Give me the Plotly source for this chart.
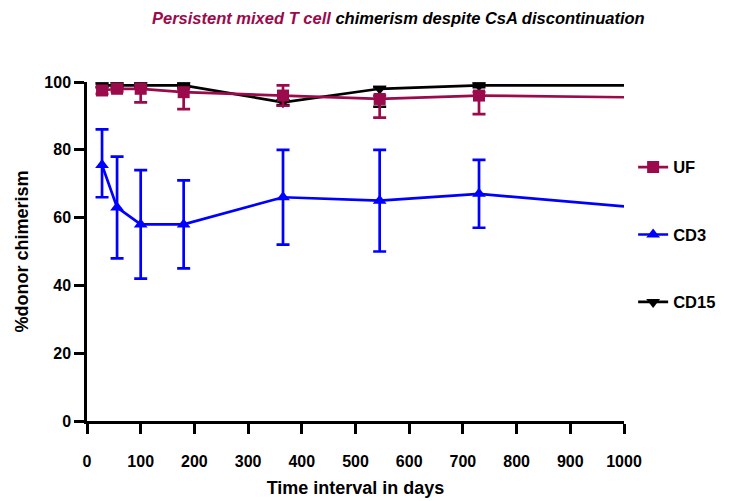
import plotly.graph_objects as go

days = [28, 56, 100, 180, 365, 545, 730]
x_end = [730, 1000]

uf = [97.5, 98, 98, 97, 96, 95, 96]
uf_up = [1, 0.8, 1, 1, 3, 1, 1]
uf_dn = [1, 0.8, 4, 5, 3, 5.5, 5.5]
uf_end = [96, 95.5]

cd3 = [75.5, 63, 58, 58, 66, 65, 67]
cd3_up = [10.5, 15, 16, 13, 14, 15, 10]
cd3_dn = [9.5, 15, 16, 13, 14, 15, 10]
cd3_end = [67, 63.3]

cd15 = [99, 99, 99, 99, 94, 98, 99]
cd15_up = [0.5, 0.5, 0.5, 0.5, 0.5, 0.5, 0.5]
cd15_dn = [0.5, 0.5, 0.5, 0.5, 0.8, 5.3, 0.5]
cd15_end = [99, 99]

x_ticks = list(range(0, 1001, 100))
y_ticks = list(range(0, 101, 20))

MAROON = "#9B0A4B"
BLUE = "#0000FF"
BLACK = "#000000"
FONT = "Liberation Sans, Arial"

fig = go.Figure()

def add_series(name, y, up, dn, yend, color, symbol, rank):
    fig.add_trace(go.Scatter(
        x=x_end, y=yend, mode="lines", line=dict(color=color, width=2.7),
        showlegend=False, hoverinfo="skip", cliponaxis=False))
    fig.add_trace(go.Scatter(
        x=days, y=y, mode="lines+markers", name=name, legendrank=rank,
        legendgroup=name,
        line=dict(color=color, width=2.7),
        marker=dict(color=color, symbol=symbol, size=12),
        error_y=dict(type="data", symmetric=False, array=up, arrayminus=dn,
                     color=color, thickness=2.7, width=6.5),
        cliponaxis=False))

add_series("CD15", cd15, cd15_up, cd15_dn, cd15_end, BLACK, "triangle-down", 3)
add_series("UF", uf, uf_up, uf_dn, uf_end, MAROON, "square", 1)
add_series("CD3", cd3, cd3_up, cd3_dn, cd3_end, BLUE, "triangle-up", 2)

tickfont = dict(family=FONT, size=16, color="black", weight="bold")

fig.update_layout(
    width=732, height=501,
    margin=dict(l=79, r=116, t=74, b=88),
    plot_bgcolor="white", paper_bgcolor="white",
    font=dict(family=FONT, color="black"),
    showlegend=True,
    legend=dict(x=1.017, y=0.80, xanchor="left", yanchor="top",
                traceorder="grouped", tracegroupgap=43,
                font=dict(family=FONT, size=16.5, color="black", weight="bold"),
                itemwidth=30, bgcolor="rgba(0,0,0,0)"),
    xaxis=dict(range=[0, 1000], tickvals=x_ticks,
               showgrid=False, zeroline=False, showline=True, linecolor="black",
               linewidth=2.5, ticks="outside", ticklen=10, tickwidth=2.5,
               tickcolor="black", tickfont=tickfont, ticklabelstandoff=14,
               title=dict(text="<b>Time interval in days</b>",
                          font=dict(family=FONT, size=18, color="black"),
                          standoff=13)),
    yaxis=dict(range=[0, 100], tickvals=y_ticks,
               showgrid=False, zeroline=False, showline=True, linecolor="black",
               linewidth=2.5, ticks="outside", ticklen=10, tickwidth=2.5,
               tickcolor="black", tickfont=tickfont,
               title=dict(text="<b>%donor chimerism</b>",
                          font=dict(family=FONT, size=18, color="black"),
                          standoff=12)),
)

fig.add_annotation(
    xref="paper", yref="paper", x=(142 - 79) / 537, y=1.0, yshift=64,
    xanchor="left", yanchor="middle", showarrow=False,
    text=f"<b><i><span style='color:{MAROON}'>Persistent mixed T cell</span> chimerism despite CsA discontinuation</i></b>",
    font=dict(family=FONT, size=16.5, color="black"))

fig.write_html("out.html")
